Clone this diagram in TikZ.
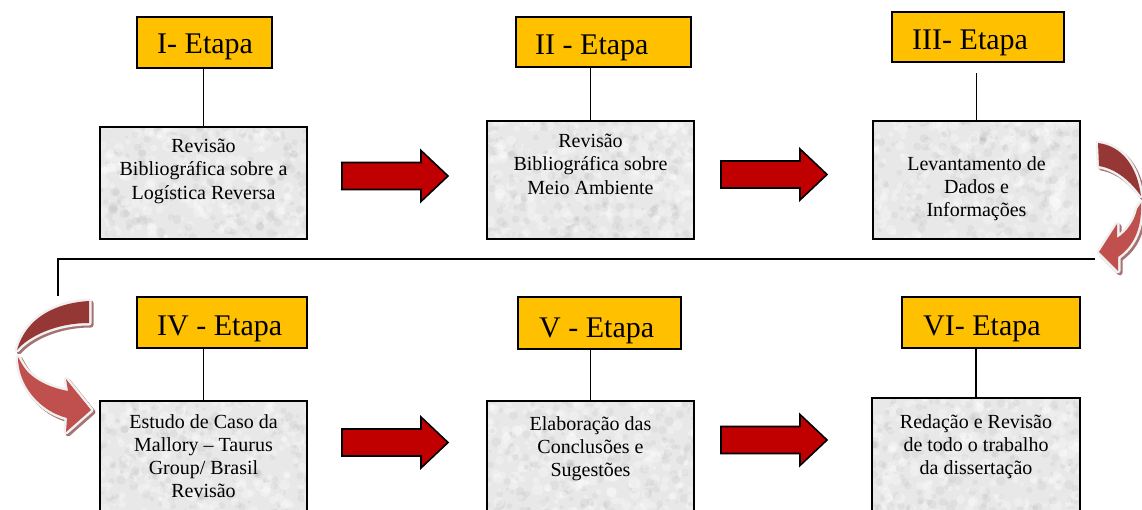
\documentclass[tikz,border=0pt]{standalone}
\usepackage{fontspec}
\setmainfont{Liberation Serif}
\usetikzlibrary{calc}

\definecolor{etapafill}{RGB}{255,192,0}
\definecolor{boxfill}{RGB}{232,232,232}
\definecolor{arrowred}{RGB}{192,0,0}
\definecolor{ribbondark}{RGB}{149,55,53}
\definecolor{ribbonlight}{RGB}{192,80,77}
\definecolor{ribbonglow}{RGB}{240,240,240}
\definecolor{ribbonshadow}{RGB}{165,115,115}

\tikzset{
  etapa/.style={draw=black, line width=1.8pt, fill=etapafill, inner sep=0pt},
  etapatext/.style={font=\fontsize{30}{34}\selectfont, inner sep=0pt, anchor=base west},
  stagebox/.style={fill=boxfill, inner sep=0pt},
  stageframe/.style={draw=black, line width=1.9pt},
  stagetext/.style={font=\fontsize{20}{23.3}\selectfont, align=center, inner sep=0pt, anchor=north},
  link/.style={draw=black, line width=1.8pt},
  blockarrow/.style={fill=arrowred, draw=black, line width=1.6pt, line join=miter},
  redarrow/.pic={\path[blockarrow] (0,-13.5) -- (79,-13.5) -- (79,-25.5) -- (106,0)
      -- (79,25.5) -- (79,13.5) -- (0,13.5) -- cycle;},
}

% soft granite-like speckles inside a stage box
\newcommand\speckle[1]{%
  \begin{scope}
    \clip (#1.south west) rectangle (#1.north east);
    \foreach \k in {1,...,220}{%
      \pgfmathsetmacro\ua{rnd}\pgfmathsetmacro\va{rnd}%
      \pgfmathsetmacro\ub{rnd}\pgfmathsetmacro\vb{rnd}%
      \pgfmathsetmacro\ra{2+4*rnd}\pgfmathsetmacro\rb{1.5+3.5*rnd}%
      \fill[white, opacity=0.3] ($(#1.south west)+(\ua*212pt,\va*125pt)$) circle[radius=\ra pt];
      \fill[black, opacity=0.035] ($(#1.south west)+(\ub*212pt,\vb*125pt)$) circle[radius=\rb pt];
    }
  \end{scope}}

% one piece of a curved ribbon arrow: shadow, light rim, colour
\newcommand\ribbonshade[1]{\path[fill=ribbonshadow, draw=ribbonshadow, line width=5pt,
    line join=round, shift={(2,2)}] #1;}
\newcommand\ribbonrim[1]{\path[fill=ribbonglow, draw=ribbonglow, line width=5pt, line join=round] #1;}

\begin{document}
\begin{tikzpicture}[x=1pt, y=-1pt]
\pgfmathsetseed{12}
\path[use as bounding box, clip] (0,0) rectangle (1142,510);

% ---------- stage boxes ----------
\node[stagebox, minimum width=207pt, minimum height=112pt] (b1) at (203.5,183) {};
\node[stagebox, minimum width=207pt, minimum height=118pt] (b2) at (590.5,180) {};
\node[stagebox, minimum width=207pt, minimum height=118pt] (b3) at (976.5,180) {};
\node[stagebox, minimum width=207pt, minimum height=122pt] (b4) at (203.5,462) {};
\node[stagebox, minimum width=207pt, minimum height=122pt] (b5) at (590.5,462) {};
\node[stagebox, minimum width=208pt, minimum height=125pt] (b6) at (976,460.5) {};
\foreach \b in {b1,b2,b3,b4,b5,b6}{\speckle{\b}}
\foreach \b in {b1,b2,b3,b4,b5,b6}{\draw[stageframe] (\b.south west) rectangle (\b.north east);}

\node[stagetext] (t1) at (203.5,139) {Revisão\\Bibliográfica sobre a\\Logística Reversa};
\node[stagetext] (t2) at (590.5,134) {Revisão\\Bibliográfica sobre\\Meio Ambiente};
\node[stagetext] (t3) at (976.5,156) {Levantamento de\\Dados e\\Informações};
\node[stagetext] (t4) at (203.5,414) {Estudo de Caso da\\Mallory – Taurus\\Group/ Brasil\\Revisão};
\node[stagetext] (t5) at (590.5,416) {Elaboração das\\Conclusões e\\Sugestões};
\node[stagetext] (t6) at (976,414) {Redação e Revisão\\de todo o trabalho\\da dissertação};

% ---------- stage labels ----------
\node[etapa, minimum width=135pt, minimum height=51pt] (e1) at (204.5,42.5) {};
\node[etapa, minimum width=175pt, minimum height=50pt] (e2) at (603.5,42) {};
\node[etapa, minimum width=172pt, minimum height=50pt] (e3) at (978,37) {};
\node[etapa, minimum width=170pt, minimum height=51pt] (e4) at (222,322.5) {};
\node[etapa, minimum width=163pt, minimum height=52pt] (e5) at (599.5,323) {};
\node[etapa, minimum width=178pt, minimum height=51pt] (e6) at (991,322.5) {};

\node[etapatext] (l1) at (157,54) {I- Etapa};
\node[etapatext] (l2) at (535,55) {II - Etapa};
\node[etapatext] (l3) at (912,50) {III- Etapa};
\node[etapatext] (l4) at (157,335) {IV - Etapa};
\node[etapatext] (l5) at (539,337) {V - Etapa};
\node[etapatext] (l6) at (923,335) {VI- Etapa};

% ---------- label-to-box links ----------
\draw[link] (b1.north) -- (b1.north |- e1.south);
\draw[link] (b2.north) -- (b2.north |- e2.south);
\draw[link, shorten >=10pt] (b3.north) -- (b3.north |- e3.south);
\draw[link] (b4.north) -- (b4.north |- e4.south);
\draw[link] (b5.north) -- (b5.north |- e5.south);
\draw[link] (b6.north) -- (b6.north |- e6.south);

% ---------- block arrows between stages ----------
\pic at (342,176) {redarrow};
\pic at (721,174.5) {redarrow};
\pic at (342,442.5) {redarrow};
\pic at (721,440) {redarrow};

% ---------- return line from the first row to the second ----------
\coordinate (wrapR) at (1095,259);
\coordinate (wrapL) at (58,259);
\draw[link, line width=1.6pt] (wrapR) -- (wrapL) -- (wrapL |- e4.north);

% ---------- curved ribbon arrows ----------
\def\rdark{(1098,143) .. controls (1122,146) and (1137,166) .. (1141,196)
  .. controls (1131,182) and (1117,169) .. (1099,166) -- cycle}
\def\rlight{(1141,203) .. controls (1142,228) and (1134,246) .. (1118,257)
  -- (1118,271) -- (1099,252) -- (1117,224) -- (1117,238)
  .. controls (1127,232) and (1135,220) .. (1137,209) -- cycle}
\def\ldark{(89,301) .. controls (55,303) and (26,318) .. (17,350)
  .. controls (28,337) and (55,323) .. (89,323) -- cycle}
\def\llight{(18,357) .. controls (18,386) and (40,411) .. (67,418)
  -- (66,432) -- (91,410) -- (66,379) -- (68,391)
  .. controls (46,387) and (29,377) .. (22,364) -- cycle}

\ribbonshade{\rdark}\ribbonshade{\rlight}
\ribbonrim{\rdark}\ribbonrim{\rlight}
\fill[ribbondark] \rdark;
\fill[ribbonlight] \rlight;

\ribbonshade{\ldark}\ribbonshade{\llight}
\ribbonrim{\ldark}\ribbonrim{\llight}
\fill[ribbondark] \ldark;
\fill[ribbonlight] \llight;
\end{tikzpicture}
\end{document}
